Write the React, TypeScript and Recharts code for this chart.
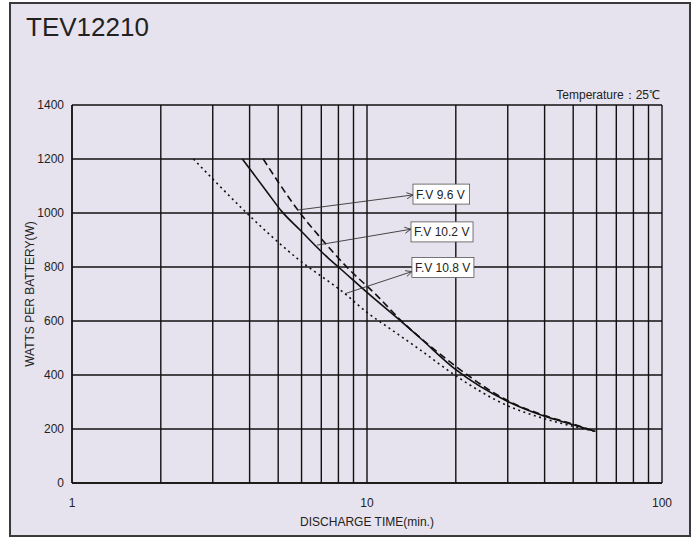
import React from 'react';
import { LineChart, Line, XAxis, YAxis, CartesianGrid, ReferenceLine, ReferenceDot } from 'recharts';

const chartTitle = 'TEV12210';
const temperatureNote = 'Temperature：25℃';
const xAxisTitle = 'DISCHARGE TIME(min.)';
const yAxisTitle = 'WATTS PER BATTERY(W)';

const xTicks = [1, 10, 100];
const xGridValues = [1, 2, 3, 4, 5, 6, 7, 8, 9, 10, 20, 30, 40, 50, 60, 70, 80, 90, 100];
const yTicks = [0, 200, 400, 600, 800, 1000, 1200, 1400];

// F.V 9.6 V (dashed)
const fv96Time = [4.45, 5, 5.93, 7, 8.54, 10.79, 13.1, 16.35, 20, 30, 40, 50, 59.5];
const fv96Watts = [1200, 1115, 1000, 905, 800, 695, 600, 508, 432, 305, 250, 218, 191];
// F.V 10.2 V (solid)
const fv102Time = [3.78, 4.57, 5.14, 5.93, 7.39, 8, 10, 12.94, 15.1, 20, 30, 40, 50, 59.5];
const fv102Watts = [1200, 1080, 1006, 937, 833, 800, 706, 602, 538, 420, 302, 247, 216, 191];
// F.V 10.8 V (dotted)
const fv108Time = [2.58, 3, 3.91, 5.78, 8.42, 10, 12.1, 15.1, 20, 30, 40, 50, 59.5];
const fv108Watts = [1200, 1126, 1000, 833, 701, 632, 568, 494, 397, 286, 238, 210, 191];

const seriesNames = ['F.V 9.6 V', 'F.V 10.2 V', 'F.V 10.8 V'];
const arrowFromTime = [5.84, 6.77, 8.42];
const arrowFromWatts = [1011, 881, 701];
const labelTime = [14.32, 14.1, 14.2];
const arrowToWatts = [1067, 940, 783];
const labelWatts = [1070, 930, 798];

const toRows = (t: number[], w: number[]) => t.map((v, i) => ({ t: v, w: w[i] }));
const fv96Data = toRows(fv96Time, fv96Watts);
const fv102Data = toRows(fv102Time, fv102Watts);
const fv108Data = toRows(fv108Time, fv108Watts);

const FONT = '"Liberation Sans", Arial, Helvetica, sans-serif';

const ArrowShape = (props: any) => {
  const { x1, y1, x2, y2 } = props;
  if ([x1, y1, x2, y2].some((v) => v == null || isNaN(v))) return null;
  const ang = Math.atan2(y2 - y1, x2 - x1);
  const len = 7;
  const spread = 0.45;
  const ax = x2 - len * Math.cos(ang - spread);
  const ay = y2 - len * Math.sin(ang - spread);
  const bx = x2 - len * Math.cos(ang + spread);
  const by = y2 - len * Math.sin(ang + spread);
  return (
    <g>
      <line x1={x1} y1={y1} x2={x2} y2={y2} stroke="#333" strokeWidth={0.9} />
      <polyline points={`${ax},${ay} ${x2},${y2} ${bx},${by}`} fill="none" stroke="#333" strokeWidth={0.9} />
    </g>
  );
};

const makeBox = (text: string) => (props: any) => {
  const { cx, cy } = props;
  if (cx == null || cy == null) return null;
  const w = 8 + text.length * 5.4;
  return (
    <g>
      <rect x={cx} y={cy - 10} width={w} height={20} fill="#ffffff" stroke="#555" strokeWidth={0.8} />
      <text x={cx + 3} y={cy + 4.5} fontSize={12} fill="#222" fontFamily={FONT}>{text}</text>
    </g>
  );
};

export default function App() {
  return (
    <div style={{ position: 'absolute', left: 0, top: 0, width: 699, height: 544, background: '#ffffff', fontFamily: FONT }}>
      <div
        style={{
          position: 'absolute',
          left: 9,
          top: 2,
          width: 682,
          height: 535,
          background: '#e7e3ee',
          border: '2px solid #3a3a3a',
          boxSizing: 'border-box',
        }}
      />
      <div style={{ position: 'absolute', left: 26, top: 12, fontSize: 26, color: '#222', lineHeight: '30px' }}>{chartTitle}</div>
      <div style={{ position: 'absolute', right: 39, top: 88, fontSize: 12, color: '#222', lineHeight: '14px' }}>{temperatureNote}</div>
      <div style={{ position: 'absolute', left: 0, top: 0 }}>
        <LineChart width={699} height={544} margin={{ top: 105, right: 37, bottom: 16, left: 22 }}>
          <CartesianGrid vertical={false} stroke="#111" strokeWidth={1.4} strokeDasharray="" />
          {xGridValues.map((v) => (
            <ReferenceLine key={'gx' + v} x={v} stroke="#111" strokeWidth={1.4} />
          ))}
          <XAxis
            dataKey="t"
            type="number"
            scale="log"
            domain={[1, 100]}
            ticks={xTicks}
            allowDataOverflow
            height={45}
            tickLine={false}
            axisLine={{ stroke: '#111', strokeWidth: 1.4 }}
            tickMargin={9}
            tick={{ fontSize: 12, fill: '#222', fontFamily: FONT }}
            label={{ value: xAxisTitle, position: 'insideBottom', offset: 2, fontSize: 12, fill: '#222', fontFamily: FONT }}
          />
          <YAxis
            type="number"
            domain={[0, 1400]}
            ticks={yTicks}
            width={50}
            tickLine={false}
            axisLine={{ stroke: '#111', strokeWidth: 1.4 }}
            tick={{ fontSize: 12, fill: '#222', fontFamily: FONT }}
            label={{ value: yAxisTitle, angle: -90, position: 'insideLeft', offset: 8, fontSize: 12, fill: '#222', fontFamily: FONT, style: { textAnchor: 'middle' } }}
          />
          <Line data={fv108Data} dataKey="w" type="monotone" stroke="#111" strokeWidth={1.6} strokeDasharray="2 3.5" dot={false} isAnimationActive={false} />
          <Line data={fv102Data} dataKey="w" type="monotone" stroke="#111" strokeWidth={1.6} dot={false} isAnimationActive={false} />
          <Line data={fv96Data} dataKey="w" type="monotone" stroke="#111" strokeWidth={1.6} strokeDasharray="7 4" dot={false} isAnimationActive={false} />
          {seriesNames.map((name, i) => (
            <ReferenceLine
              key={'arrow' + i}
              segment={[
                { x: arrowFromTime[i], y: arrowFromWatts[i] },
                { x: labelTime[i], y: arrowToWatts[i] },
              ]}
              shape={ArrowShape}
            />
          ))}
          {seriesNames.map((name, i) => (
            <ReferenceDot key={'box' + i} x={labelTime[i]} y={labelWatts[i]} r={1} shape={makeBox(name)} />
          ))}
        </LineChart>
      </div>
    </div>
  );
}
